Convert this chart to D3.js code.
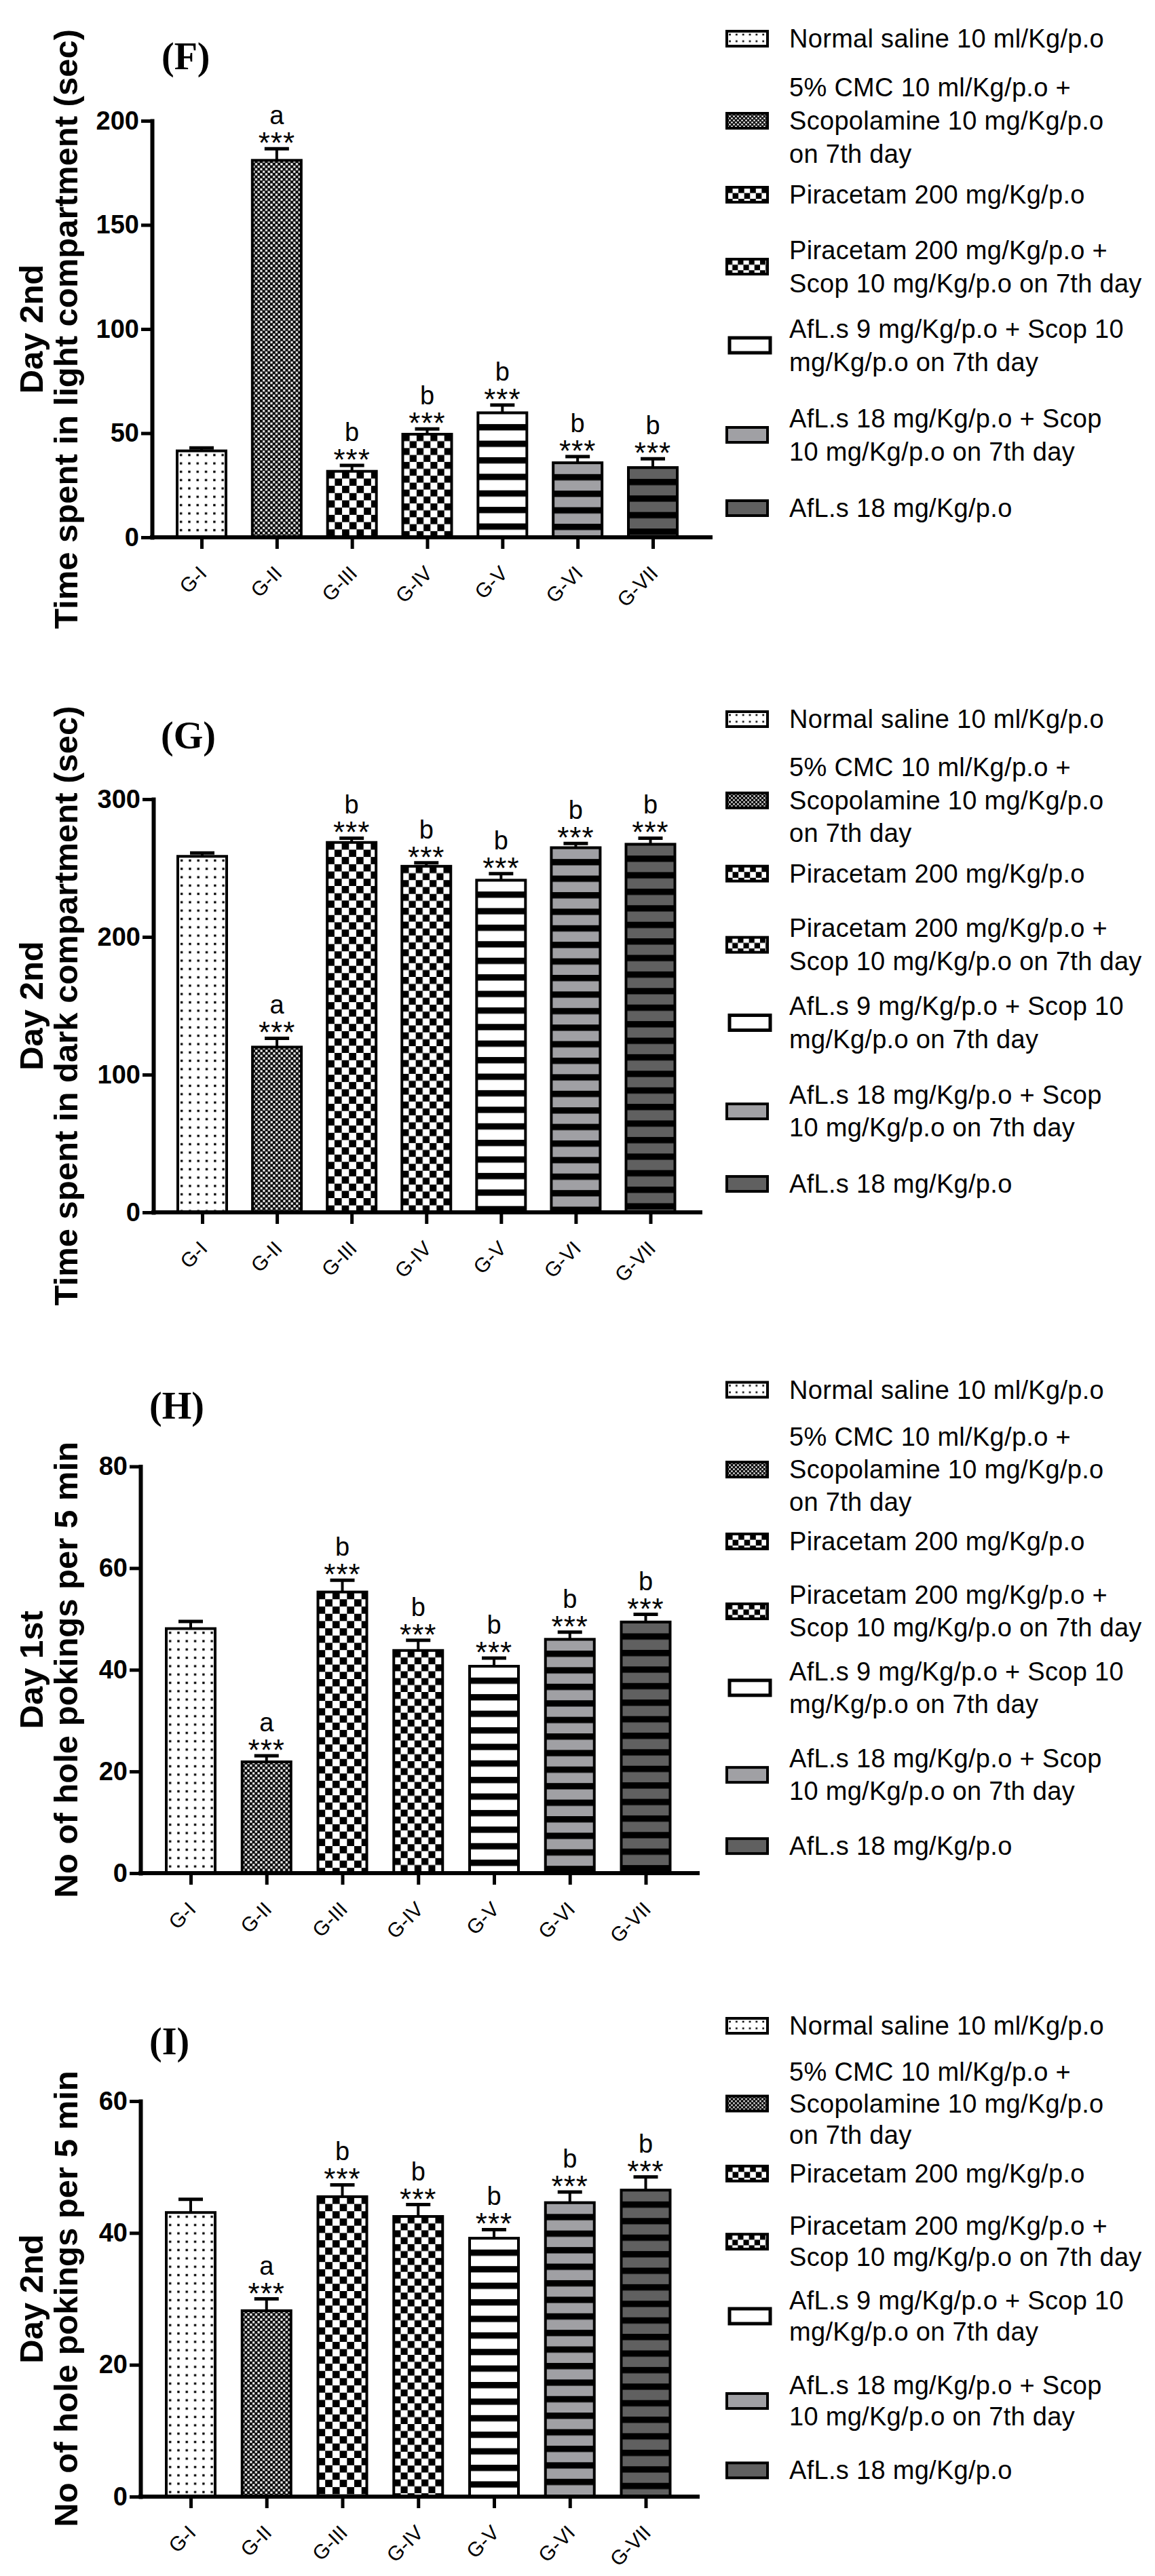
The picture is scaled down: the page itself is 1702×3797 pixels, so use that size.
<!DOCTYPE html>
<html>
<head>
<meta charset="utf-8">
<script src="https://cdnjs.cloudflare.com/ajax/libs/d3/7.8.5/d3.min.js"></script>
<style>
  html, body { margin: 0; padding: 0; background: #fff; }
  svg { display: block; }
</style>
</head>
<body>
<svg id="chart" width="1702" height="3797"></svg>
<script>
// ---- data ----
const groups = ["G-I", "G-II", "G-III", "G-IV", "G-V", "G-VI", "G-VII"];

const legendLabels = [
  ["Normal saline 10 ml/Kg/p.o"],
  ["5% CMC 10 ml/Kg/p.o +", "Scopolamine 10 mg/Kg/p.o", "on 7th day"],
  ["Piracetam 200 mg/Kg/p.o"],
  ["Piracetam 200 mg/Kg/p.o +", "Scop 10 mg/Kg/p.o on 7th day"],
  ["AfL.s 9 mg/Kg/p.o + Scop 10", "mg/Kg/p.o on 7th day"],
  ["AfL.s 18 mg/Kg/p.o + Scop", "10 mg/Kg/p.o on 7th day"],
  ["AfL.s 18 mg/Kg/p.o"]
];

const sigStars = ["", "***", "***", "***", "***", "***", "***"];
const sigLetters = ["", "a", "b", "b", "b", "b", "b"];

const panelTitles = ["(F)", "(G)", "(H)", "(I)"];
const yTitleDay = ["Day 2nd", "Day 2nd", "Day 1st", "Day 2nd"];
const yTitleMain = [
  "Time spent in light compartment (sec)",
  "Time spent in dark compartment (sec)",
  "No of hole pokings per 5 min",
  "No of hole pokings per 5 min"
];
const yMax = [200, 300, 80, 60];
const yTicks = [
  [0, 50, 100, 150, 200],
  [0, 100, 200, 300],
  [0, 20, 40, 60, 80],
  [0, 20, 40, 60]
];

// mean values and SEM, per panel
const meansF = [41.5, 181, 31.7, 49.5, 59.8, 35.8, 33.5];
const semF = [1.4, 5.6, 2.8, 2.5, 3.7, 3.0, 4.2];
const meansG = [258.5, 120, 268.6, 251.3, 241.2, 264.8, 267.3];
const semG = [2.5, 6.4, 3.1, 2.5, 4.7, 3.1, 4.4];
const meansH = [48.1, 21.9, 55.3, 43.8, 40.7, 46.0, 49.4];
const semH = [1.4, 1.2, 2.3, 2.0, 1.6, 1.4, 1.5];
const meansI = [43.1, 28.2, 45.5, 42.5, 39.2, 44.6, 46.5];
const semI = [2.0, 1.8, 1.8, 1.8, 1.3, 1.6, 2.0];

const panelMeans = [meansF, meansG, meansH, meansI];
const panelSem = [semF, semG, semH, semI];

// ---- layout (pixels) ----
const layout = [
  { titleX: 238, titleY: 102, top: 178, bottom: 792, axisX: 224, first: 297, last: 962, axisEnd: 1050, legY: 57, legK: 1 },
  { titleX: 237, titleY: 1103, top: 1178, bottom: 1787, axisX: 226, first: 298, last: 958.5, axisEnd: 1035, legY: 1060, legK: 0.99 },
  { titleX: 220, titleY: 2091, top: 2161.5, bottom: 2761, axisX: 207, first: 281, last: 951.5, axisEnd: 1031, legY: 2048.5, legK: 0.972 },
  { titleX: 220, titleY: 3028, top: 3097, bottom: 3680, axisX: 207, first: 281, last: 951.5, axisEnd: 1031, legY: 2986, legK: 0.947 }
];
const legendOffsets = [0, 121, 230, 336, 452, 584, 692];

const sans = "Arial, 'Liberation Sans', Helvetica, sans-serif";
const serif = "'Times New Roman', 'Liberation Serif', serif";
const barW = 72;

const svg = d3.select("#chart");
svg.append("rect").attr("width", 1702).attr("height", 3797).attr("fill", "#fff");
const defs = svg.append("defs");

// pattern kinds per group
const patternKind = ["dots", "checkS", "checkL", "checkM", "stripeW", "stripeG", "stripeD"];

function makePattern(id, kind, ox, oy, s) {
  let size;
  const p = defs.append("pattern").attr("id", id).attr("patternUnits", "userSpaceOnUse");
  if (kind === "dots") {
    size = 12.3 * s;
    p.attr("width", size).attr("height", size);
    p.append("rect").attr("width", size).attr("height", size).attr("fill", "#fff");
    p.append("rect").attr("x", 4 * s).attr("y", 4.5 * s).attr("width", 3.3 * s).attr("height", 3.3 * s).attr("fill", "#000");
  } else if (kind === "checkS") {
    const c = 3.75 * s;
    p.attr("width", 2 * c).attr("height", 2 * c);
    p.append("rect").attr("width", 2 * c).attr("height", 2 * c).attr("fill", "#000");
    p.append("rect").attr("x", 0.3).attr("y", 0.3).attr("width", c - 0.6).attr("height", c - 0.6).attr("fill", "#fff");
    p.append("rect").attr("x", c + 0.3).attr("y", c + 0.3).attr("width", c - 0.6).attr("height", c - 0.6).attr("fill", "#fff");
  } else if (kind === "checkL" || kind === "checkM") {
    const c = (kind === "checkL" ? 10.7 : 10.2) * s;
    p.attr("width", 2 * c).attr("height", 2 * c);
    p.append("rect").attr("width", 2 * c).attr("height", 2 * c).attr("fill", "#fff");
    p.append("rect").attr("width", c).attr("height", c).attr("fill", "#000");
    p.append("rect").attr("x", c).attr("y", c).attr("width", c).attr("height", c).attr("fill", "#000");
  } else {
    const bg = kind === "stripeW" ? "#fff" : kind === "stripeG" ? "#a0a0a4" : "#606060";
    size = 24.4;
    p.attr("width", 50).attr("height", size);
    p.append("rect").attr("width", 50).attr("height", size).attr("fill", bg);
    if (s >= 1) p.append("rect").attr("width", 50).attr("height", 9.3).attr("fill", "#000");
    oy = oy + 16.7;
  }
  p.attr("patternTransform", `translate(${ox},${oy})`);
}

layout.forEach((L, pi) => {
  const means = panelMeans[pi];
  const sem = panelSem[pi];
  const g = svg.append("g");

  const x = d3.scalePoint().domain(groups).range([L.first, L.last]);
  const y = d3.scaleLinear().domain([0, yMax[pi]]).range([L.bottom, L.top]);

  // panel title
  g.append("text")
    .attr("x", L.titleX).attr("y", L.titleY)
    .attr("font-family", serif).attr("font-weight", "bold").attr("font-size", 56)
    .text(panelTitles[pi]);

  // y axis title (two lines)
  const cy = (L.top + L.bottom) / 2;
  [[yTitleDay[pi], 63], [yTitleMain[pi], 114]].forEach(([t, bx]) => {
    g.append("text")
      .attr("transform", `translate(${bx},${cy}) rotate(-90)`)
      .attr("text-anchor", "middle")
      .attr("font-family", sans).attr("font-weight", "bold").attr("font-size", 49)
      .text(t);
  });

  // bars
  groups.forEach((grp, i) => {
    const cx = x(grp);
    const top = y(means[i]);
    const pid = `bar-${pi}-${i}`;
    makePattern(pid, patternKind[i], cx - barW / 2, top, 1);
    g.append("rect")
      .attr("x", cx - barW / 2).attr("y", top)
      .attr("width", barW).attr("height", L.bottom - top)
      .attr("fill", `url(#${pid})`)
      .attr("stroke", "#000").attr("stroke-width", 4);

    // error bar (upper half)
    const ey = y(means[i] + sem[i]);
    g.append("line")
      .attr("x1", cx).attr("x2", cx).attr("y1", top).attr("y2", ey)
      .attr("stroke", "#000").attr("stroke-width", 4);
    g.append("line")
      .attr("x1", cx - 18).attr("x2", cx + 18).attr("y1", ey).attr("y2", ey)
      .attr("stroke", "#000").attr("stroke-width", 5);

    if (sigStars[i]) {
      g.append("text")
        .attr("x", cx).attr("y", ey + 7)
        .attr("text-anchor", "middle")
        .attr("font-family", sans).attr("font-size", 44)
        .attr("letter-spacing", 1)
        .text(sigStars[i]);
    }
    if (sigLetters[i]) {
      g.append("text")
        .attr("x", cx).attr("y", ey - 36)
        .attr("text-anchor", "middle")
        .attr("font-family", sans).attr("font-size", 38)
        .text(sigLetters[i]);
    }
  });

  // y axis
  const yAxis = g.append("g")
    .attr("transform", `translate(${L.axisX},0)`)
    .call(d3.axisLeft(y).tickValues(yTicks[pi]).tickSize(16).tickSizeOuter(0).tickPadding(3));
  yAxis.select(".domain").attr("stroke-width", 6).attr("stroke-linecap", "square");
  yAxis.selectAll(".tick line").attr("stroke-width", 5);
  yAxis.selectAll(".tick text")
    .attr("font-family", sans).attr("font-weight", "bold").attr("font-size", 38)
    .attr("fill", "#000");

  // x axis
  const xAxis = g.append("g")
    .attr("transform", `translate(0,${L.bottom})`)
    .call(d3.axisBottom(x).tickSize(17).tickSizeOuter(0));
  xAxis.select(".domain").remove();
  xAxis.selectAll(".tick line").attr("stroke-width", 5);
  xAxis.selectAll(".tick text")
    .attr("font-family", sans).attr("font-size", 30).attr("fill", "#000")
    .attr("text-anchor", "end")
    .attr("dy", null).attr("y", null)
    .attr("transform", "translate(9,55) rotate(-45)");
  g.append("line")
    .attr("x1", L.axisX - 3).attr("x2", L.axisEnd)
    .attr("y1", L.bottom).attr("y2", L.bottom)
    .attr("stroke", "#000").attr("stroke-width", 6);

  // legend
  const leg = g.append("g");
  legendLabels.forEach((lines, i) => {
    const cyL = L.legY + legendOffsets[i] * L.legK;
    const sx = i === 4 ? 1075 : 1071;
    const pid = `leg-${pi}-${i}`;
    makePattern(pid, patternKind[i], sx, cyL - 11, 0.8);
    leg.append("rect")
      .attr("x", sx).attr("y", cyL - 11)
      .attr("width", 60).attr("height", 22)
      .attr("fill", `url(#${pid})`)
      .attr("stroke", "#000").attr("stroke-width", i === 4 ? 5 : 4);
    const n = lines.length;
    lines.forEach((t, li) => {
      leg.append("text")
        .attr("x", 1163)
        .attr("y", cyL + 13 + (li - (n - 1) / 2) * 49 * L.legK)
        .attr("font-family", sans).attr("font-size", 38)
        .attr("letter-spacing", 0.3)
        .text(t);
    });
  });
});
</script>
</body>
</html>
